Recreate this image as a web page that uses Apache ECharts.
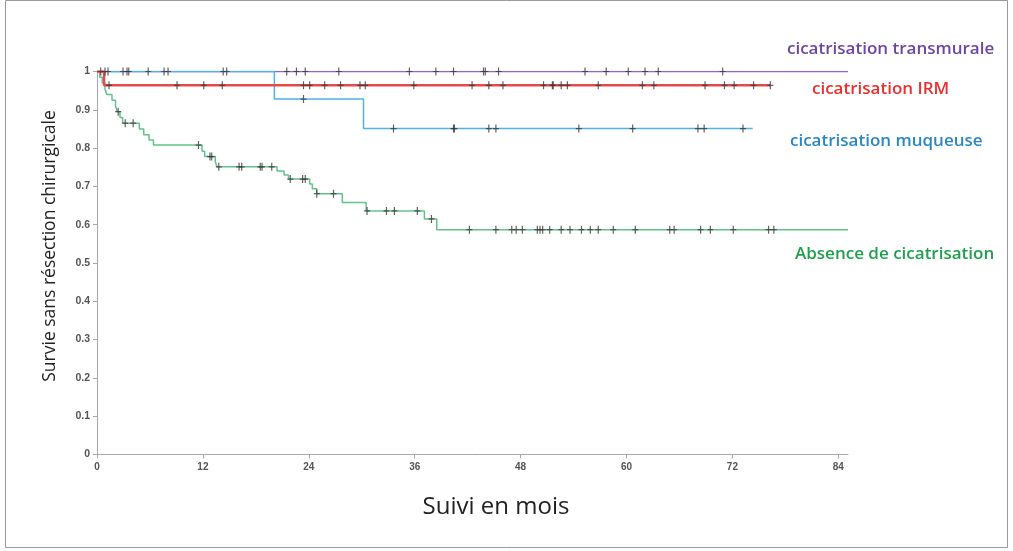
<!DOCTYPE html>
<html><head><meta charset="utf-8">
<script src="https://cdn.jsdelivr.net/npm/echarts@6/dist/echarts.min.js"></script>
<style>html,body{margin:0;padding:0;background:#fff}#c{width:1013px;height:551px}</style>
</head><body><div id="c"></div>
<script>
// ---- data (months, survival) ----
const xTicks = [0, 12, 24, 36, 48, 60, 72, 84];
const seriesNames = ["cicatrisation transmurale", "cicatrisation IRM", "cicatrisation muqueuse", "Absence de cicatrisation"];

const purpleSteps = [[0, 1], [85.1, 1]];
const purpleCensor = [0.91, 1.25, 3.4, 3.6, 8.05, 14.7, 21.5, 22.6, 23.6, 27.4, 35.4, 38.4, 40.4, 43.8, 44.0, 45.5, 55.3, 57.7, 60.2, 62.1, 63.6, 70.9];

const redSteps = [[0, 1], [0.8, 0.964], [76.3, 0.964]];
const redCensor = [1.36, 9.07, 12.1, 14.2, 23.4, 24.1, 25.8, 27.6, 29.8, 30.4, 35.9, 42.5, 44.4, 46.0, 50.6, 51.6, 51.7, 52.6, 53.3, 56.8, 61.8, 63.1, 68.9, 71.1, 72.2, 74.4, 76.3];

const blueSteps = [[0, 1], [20.1, 0.928], [30.2, 0.851], [74.3, 0.851]];
const blueCensor = [0.42, 2.95, 5.8, 7.6, 14.3, 23.4, 33.6, 40.4, 40.5, 44.4, 45.2, 54.6, 60.7, 68.1, 68.8, 73.2];

const greenSteps = [[0, 1], [0.3, 0.985], [0.6, 0.970], [0.9, 0.955], [1.1, 0.940], [1.7, 0.925], [2.1, 0.910], [2.3, 0.895],
  [2.6, 0.880], [2.9, 0.865], [4.8, 0.850], [5.3, 0.835], [5.9, 0.821], [6.4, 0.808], [11.9, 0.792], [12.2, 0.778],
  [13.4, 0.765], [13.6, 0.751], [20.4, 0.740], [21.2, 0.730], [21.7, 0.719], [24.1, 0.706], [24.4, 0.694], [24.9, 0.681],
  [27.8, 0.658], [30.5, 0.636], [37.1, 0.615], [38.5, 0.587], [85.1, 0.587]];
const greenCensor = [2.4, 3.2, 4.1, 11.5, 12.8, 13.0, 13.8, 16.1, 16.4, 18.5, 18.7, 19.8, 21.9, 23.3, 23.6, 24.9, 26.8,
  30.6, 32.8, 33.7, 36.3, 37.9, 42.2, 45.2, 47.0, 47.5, 48.2, 49.9, 50.2, 50.5, 51.3, 52.6, 53.6, 54.9, 55.9, 56.8,
  58.5, 61.0, 64.9, 65.4, 68.4, 69.5, 72.1, 76.1, 76.7];

// ---- helpers ----
function levelAt(steps, t) {
  let v = steps[0][1];
  for (const s of steps) { if (s[0] <= t + 1e-9) v = s[1]; }
  return v;
}
function marks(steps, times) { return times.map(t => [t, levelAt(steps, t)]); }

const COL = { purple: '#9466c9', red: '#e84a4a', blue: '#4fb3e6', green: '#63c28a' };
const plus = 'path://M2.4,0h1.2v3.4h2.4v1.2h-2.4v3.4h-1.2v-3.4h-2.4v-1.2h2.4z';

function lineSeries(name, steps, color, width) {
  return { name, type: 'line', step: 'end', data: steps, symbol: 'none', silent: true,
    lineStyle: { color, width }, z: 2 };
}
function censorSeries(name, steps, times) {
  return { name: name + ' censure', type: 'scatter', data: marks(steps, times), symbol: plus,
    symbolSize: [6, 8], itemStyle: { color: '#3a3a3a', opacity: 0.8 }, z: 5, silent: true };
}

const labelFont = '600 17px "Open Sans"';
const chart = echarts.init(document.getElementById('c'));
chart.setOption({
  animation: false,
  grid: { left: 97, right: 165, top: 71.5, bottom: 96.5 },
  xAxis: {
    type: 'value', min: 0, max: 85.1,
    axisLine: { lineStyle: { color: '#a8a8a8' } },
    axisTick: { customValues: xTicks, length: 4, lineStyle: { color: '#a8a8a8' } },
    axisLabel: { customValues: xTicks, color: '#555', fontSize: 10, fontWeight: 'bold', fontFamily: 'Liberation Sans Narrow, Liberation Sans', margin: 8 },
    splitLine: { show: false }
  },
  yAxis: {
    type: 'value', min: 0, max: 1, interval: 0.1,
    axisLine: { show: true, lineStyle: { color: '#a8a8a8' } },
    axisTick: { show: true, length: 4, lineStyle: { color: '#a8a8a8' } },
    axisLabel: { color: '#555', fontSize: 10.5, fontWeight: 'bold', fontFamily: 'Liberation Sans Narrow, Liberation Sans', margin: 7,
      formatter: v => (v === 0 || v === 1) ? String(v) : v.toFixed(1) },
    splitLine: { show: false }
  },
  series: [
    lineSeries(seriesNames[0], purpleSteps, COL.purple, 1.5),
    lineSeries(seriesNames[3], greenSteps, COL.green, 1.5),
    lineSeries(seriesNames[2], blueSteps, COL.blue, 1.5),
    lineSeries(seriesNames[1], redSteps, COL.red, 2.5),
    censorSeries(seriesNames[0], purpleSteps, purpleCensor),
    censorSeries(seriesNames[1], redSteps, redCensor),
    censorSeries(seriesNames[2], blueSteps, blueCensor),
    censorSeries(seriesNames[3], greenSteps, greenCensor)
  ],
  graphic: [
    { type: 'rect', shape: { x: 5.5, y: 0.5, width: 1002, height: 547 }, style: { fill: 'none', stroke: '#9a9a9a', lineWidth: 1 }, silent: true },
    { type: 'text', x: 787, y: 49, style: { text: seriesNames[0], fill: '#6e45a6', font: labelFont, textVerticalAlign: 'middle' } },
    { type: 'text', x: 812, y: 89, style: { text: seriesNames[1], fill: '#e8302f', font: labelFont, textVerticalAlign: 'middle' } },
    { type: 'text', x: 790, y: 141, style: { text: seriesNames[2], fill: '#2a87c3', font: labelFont, textVerticalAlign: 'middle' } },
    { type: 'text', x: 795, y: 254, style: { text: seriesNames[3], fill: '#20a04e', font: labelFont, textVerticalAlign: 'middle' } },
    { type: 'text', x: 496, y: 507, style: { text: 'Suivi en mois', fill: '#222', font: '24px "Open Sans"', textAlign: 'center', textVerticalAlign: 'middle' } },
    { type: 'text', x: 50, y: 246, rotation: Math.PI / 2, style: { text: 'Survie sans résection chirurgicale', fill: '#222', font: '17.5px "Open Sans"', textAlign: 'center', textVerticalAlign: 'middle' } }
  ]
});
</script></body></html>
